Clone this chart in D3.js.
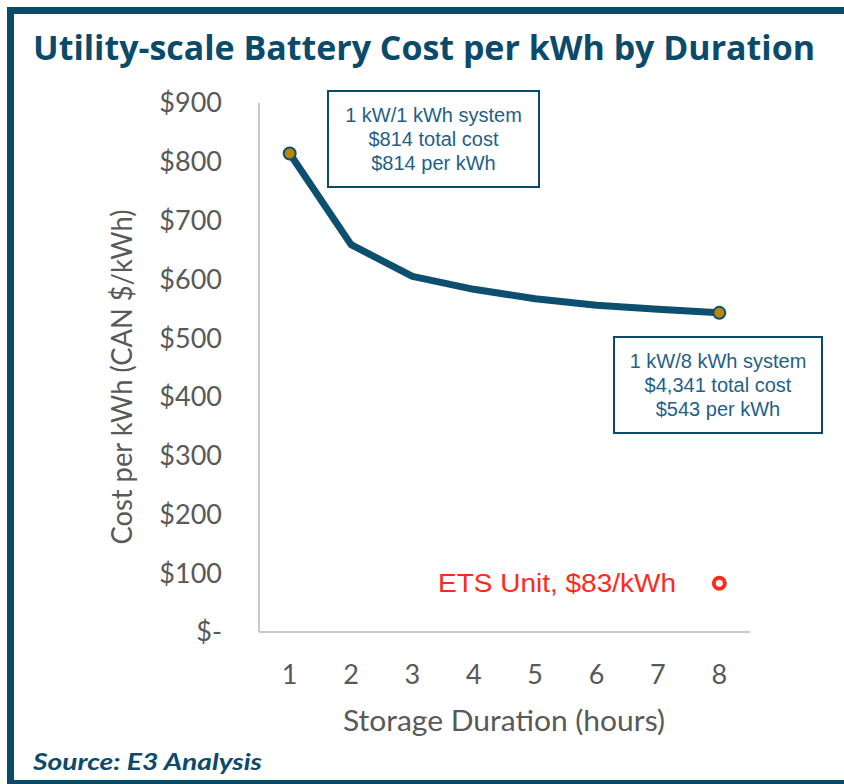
<!DOCTYPE html>
<html><head><meta charset="utf-8">
<script src="https://cdn.jsdelivr.net/npm/d3@7"></script>
<style>html,body{margin:0;padding:0;background:#fff;}</style>
</head><body>
<svg id="chart" width="844" height="784"></svg>
<script>
const durations = [1, 2, 3, 4, 5, 6, 7, 8];
const costPerKWh = [814, 659, 605, 583, 567, 556, 549, 543];
const yTicks = [0, 100, 200, 300, 400, 500, 600, 700, 800, 900];
const etsDuration = 8;
const etsCost = 83;
const ann1 = ["1 kW/1 kWh system", "$814 total cost", "$814 per kWh"];
const ann2 = ["1 kW/8 kWh system", "$4,341 total cost", "$543 per kWh"];

const svg = d3.select("#chart");
const dark = "#0c4a6a";
const grey = "#595959";
const calib = "Lato, 'Open Sans', sans-serif";

// frame
svg.append("rect").attr("x", 0).attr("y", 0).attr("width", 844).attr("height", 784).attr("fill", "#fff");
svg.append("rect").attr("x", 7).attr("y", 7).attr("width", 837).attr("height", 7).attr("fill", dark);
svg.append("rect").attr("x", 7).attr("y", 7).attr("width", 7).attr("height", 777).attr("fill", dark);
svg.append("rect").attr("x", 7).attr("y", 780).attr("width", 837).attr("height", 4).attr("fill", dark);

// title
svg.append("text").attr("x", 33).attr("y", 60)
  .attr("font-family", "Open Sans, sans-serif").attr("font-weight", 700)
  .attr("font-size", 34).attr("fill", dark)
  .attr("textLength", 782).attr("lengthAdjust", "spacingAndGlyphs")
  .text("Utility-scale Battery Cost per kWh by Duration");

const x = d3.scaleBand().domain(durations).range([259, 750]);
const y = d3.scaleLinear().domain([0, 900]).range([632, 103]);
const cx = d => x(d) + x.bandwidth() / 2;

// axes lines
svg.append("line").attr("x1", 259).attr("x2", 259).attr("y1", 103).attr("y2", 632)
  .attr("stroke", "#c8c8c8").attr("stroke-width", 2);
svg.append("line").attr("x1", 259).attr("x2", 750).attr("y1", 632).attr("y2", 632)
  .attr("stroke", "#c8c8c8").attr("stroke-width", 2);

// y tick labels
svg.append("g").selectAll("text").data(yTicks).join("text")
  .attr("x", 222).attr("y", d => y(d)).attr("dy", "0.35em")
  .attr("text-anchor", "end")
  .attr("font-family", calib).attr("font-size", 27).attr("fill", grey)
  .text(d => d === 0 ? "$-" : "$" + d);

// x tick labels
svg.append("g").selectAll("text").data(durations).join("text")
  .attr("x", d => cx(d)).attr("y", 675).attr("dy", "0.35em")
  .attr("text-anchor", "middle")
  .attr("font-family", calib).attr("font-size", 27).attr("fill", grey)
  .text(d => d);

// axis titles
svg.append("text").attr("transform", "translate(132,377) rotate(-90)")
  .attr("text-anchor", "middle")
  .attr("font-family", calib).attr("font-size", 28).attr("fill", grey)
  .attr("textLength", 335).attr("lengthAdjust", "spacingAndGlyphs")
  .text("Cost per kWh (CAN $/kWh)");
svg.append("text").attr("x", 504).attr("y", 731)
  .attr("text-anchor", "middle")
  .attr("font-family", calib).attr("font-size", 28).attr("fill", grey)
  .attr("textLength", 322).attr("lengthAdjust", "spacingAndGlyphs")
  .text("Storage Duration (hours)");

// line
const pts = durations.map((d, i) => [cx(d), y(costPerKWh[i])]);
svg.append("path").attr("d", d3.line()(pts))
  .attr("fill", "none").attr("stroke", "#0d4f6e").attr("stroke-width", 7)
  .attr("stroke-linejoin", "round").attr("stroke-linecap", "round");
svg.append("g").selectAll("circle").data([0, durations.length - 1]).join("circle")
  .attr("cx", i => pts[i][0]).attr("cy", i => pts[i][1]).attr("r", 6)
  .attr("fill", "#b8860b").attr("stroke", "#0d4f6e").attr("stroke-width", 2);

// ETS point
svg.append("circle").attr("cx", cx(etsDuration)).attr("cy", y(etsCost)).attr("r", 5.5)
  .attr("fill", "#fff").attr("stroke", "#ff2a1a").attr("stroke-width", 4);
svg.append("text").attr("x", 676).attr("y", y(etsCost)).attr("dy", "0.35em")
  .attr("text-anchor", "end")
  .attr("font-family", "Liberation Sans, Arial, sans-serif").attr("font-size", 25).attr("fill", "#ff2a1a")
  .attr("textLength", 238).attr("lengthAdjust", "spacingAndGlyphs")
  .text("ETS Unit, $83/kWh");

// annotations
function annot(x0, y0, w, h, lines) {
  svg.append("rect").attr("x", x0).attr("y", y0).attr("width", w).attr("height", h)
    .attr("fill", "#fff").attr("stroke", dark).attr("stroke-width", 2);
  svg.append("g").selectAll("text").data(lines).join("text")
    .attr("x", x0 + w / 2).attr("y", (d, i) => y0 + 24 + i * 24).attr("dy", "0.35em")
    .attr("text-anchor", "middle")
    .attr("font-family", "Liberation Sans, Arial, sans-serif").attr("font-size", 20).attr("fill", "#1f5f88")
    .text(d => d);
}
annot(328, 91, 211, 96, ann1);
annot(614, 337, 208, 96, ann2);

// source
svg.append("text").attr("x", 33).attr("y", 770)
  .attr("font-family", calib).attr("font-weight", 700).attr("font-style", "italic")
  .attr("font-size", 23).attr("fill", dark)
  .attr("textLength", 229).attr("lengthAdjust", "spacingAndGlyphs")
  .text("Source: E3 Analysis");
</script>
</body></html>
